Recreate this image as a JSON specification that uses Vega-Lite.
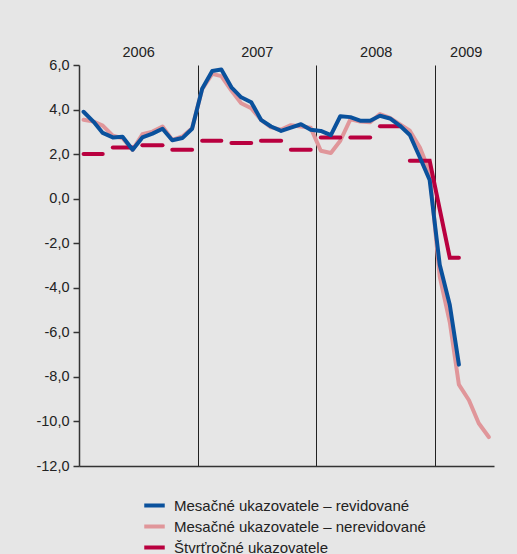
{
  "$schema": "https://vega.github.io/schema/vega-lite/v6.json",
  "width": 415,
  "height": 401,
  "autosize": {"type": "none"},
  "padding": {"left": 79, "top": 65, "right": 23, "bottom": 88},
  "background": "#e6e6e6",
  "config": {
    "view": {"stroke": null},
    "axis": {"labelFont": "Liberation Sans", "labelFontSize": 14.5, "labelColor": "#222", "title": null},
    "legend": {"labelFont": "Liberation Sans", "labelFontSize": 15, "labelColor": "#222", "labelLimit": 0, "symbolType": "stroke", "symbolStrokeWidth": 4, "symbolSize": 420, "labelOffset": 7, "rowPadding": 0, "padding": 0}
  },
  "datasets": {
    "nerev": [
      {"d": "2006-01-15", "v": 3.54}, {"d": "2006-02-15", "v": 3.46}, {"d": "2006-03-15", "v": 3.28}, {"d": "2006-04-15", "v": 2.83},
      {"d": "2006-05-15", "v": 2.71}, {"d": "2006-06-15", "v": 2.19}, {"d": "2006-07-15", "v": 2.89}, {"d": "2006-08-15", "v": 3.01},
      {"d": "2006-09-15", "v": 3.24}, {"d": "2006-10-15", "v": 2.64}, {"d": "2006-11-15", "v": 2.79}, {"d": "2006-12-15", "v": 3.16},
      {"d": "2007-01-15", "v": 4.92}, {"d": "2007-02-15", "v": 5.6}, {"d": "2007-03-15", "v": 5.5}, {"d": "2007-04-15", "v": 4.85},
      {"d": "2007-05-15", "v": 4.28}, {"d": "2007-06-15", "v": 4.06}, {"d": "2007-07-15", "v": 3.54}, {"d": "2007-08-15", "v": 3.2},
      {"d": "2007-09-15", "v": 3.1}, {"d": "2007-10-15", "v": 3.3}, {"d": "2007-11-15", "v": 3.24}, {"d": "2007-12-15", "v": 3.18},
      {"d": "2008-01-15", "v": 2.15}, {"d": "2008-02-15", "v": 2.05}, {"d": "2008-03-15", "v": 2.6}, {"d": "2008-04-15", "v": 3.56},
      {"d": "2008-05-15", "v": 3.46}, {"d": "2008-06-15", "v": 3.43}, {"d": "2008-07-15", "v": 3.8}, {"d": "2008-08-15", "v": 3.63},
      {"d": "2008-09-15", "v": 3.33}, {"d": "2008-10-15", "v": 3.05}, {"d": "2008-11-15", "v": 2.3}, {"d": "2008-12-15", "v": 1.2},
      {"d": "2009-01-15", "v": -3.5}, {"d": "2009-02-15", "v": -5.55}, {"d": "2009-03-15", "v": -8.35}, {"d": "2009-04-15", "v": -9.05},
      {"d": "2009-05-15", "v": -10.08}, {"d": "2009-06-15", "v": -10.7}
    ],
    "rev": [
      {"d": "2006-01-15", "v": 3.9}, {"d": "2006-02-15", "v": 3.45}, {"d": "2006-03-15", "v": 2.95}, {"d": "2006-04-15", "v": 2.75},
      {"d": "2006-05-15", "v": 2.78}, {"d": "2006-06-15", "v": 2.2}, {"d": "2006-07-15", "v": 2.75}, {"d": "2006-08-15", "v": 2.92},
      {"d": "2006-09-15", "v": 3.14}, {"d": "2006-10-15", "v": 2.62}, {"d": "2006-11-15", "v": 2.72}, {"d": "2006-12-15", "v": 3.14},
      {"d": "2007-01-15", "v": 4.93}, {"d": "2007-02-15", "v": 5.73}, {"d": "2007-03-15", "v": 5.8}, {"d": "2007-04-15", "v": 5.0},
      {"d": "2007-05-15", "v": 4.55}, {"d": "2007-06-15", "v": 4.33}, {"d": "2007-07-15", "v": 3.54}, {"d": "2007-08-15", "v": 3.24},
      {"d": "2007-09-15", "v": 3.04}, {"d": "2007-10-15", "v": 3.19}, {"d": "2007-11-15", "v": 3.34}, {"d": "2007-12-15", "v": 3.09},
      {"d": "2008-01-15", "v": 3.04}, {"d": "2008-02-15", "v": 2.85}, {"d": "2008-03-15", "v": 3.7}, {"d": "2008-04-15", "v": 3.66},
      {"d": "2008-05-15", "v": 3.5}, {"d": "2008-06-15", "v": 3.5}, {"d": "2008-07-15", "v": 3.72}, {"d": "2008-08-15", "v": 3.6},
      {"d": "2008-09-15", "v": 3.27}, {"d": "2008-10-15", "v": 2.86}, {"d": "2008-11-15", "v": 1.85}, {"d": "2008-12-15", "v": 0.84},
      {"d": "2009-01-15", "v": -2.97}, {"d": "2009-02-15", "v": -4.77}, {"d": "2009-03-15", "v": -7.45}
    ],
    "stv": [
      {"q": "2006Q1", "d": "2006-01-15", "v": 2.0}, {"q": "2006Q1", "d": "2006-02-15", "v": 2.0}, {"q": "2006Q1", "d": "2006-03-15", "v": 2.0},
      {"q": "2006Q2", "d": "2006-04-15", "v": 2.3}, {"q": "2006Q2", "d": "2006-05-15", "v": 2.3}, {"q": "2006Q2", "d": "2006-06-15", "v": 2.3},
      {"q": "2006Q3", "d": "2006-07-15", "v": 2.4}, {"q": "2006Q3", "d": "2006-08-15", "v": 2.4}, {"q": "2006Q3", "d": "2006-09-15", "v": 2.4},
      {"q": "2006Q4", "d": "2006-10-15", "v": 2.2}, {"q": "2006Q4", "d": "2006-11-15", "v": 2.2}, {"q": "2006Q4", "d": "2006-12-15", "v": 2.2},
      {"q": "2007Q1", "d": "2007-01-15", "v": 2.6}, {"q": "2007Q1", "d": "2007-02-15", "v": 2.6}, {"q": "2007Q1", "d": "2007-03-15", "v": 2.6},
      {"q": "2007Q2", "d": "2007-04-15", "v": 2.5}, {"q": "2007Q2", "d": "2007-05-15", "v": 2.5}, {"q": "2007Q2", "d": "2007-06-15", "v": 2.5},
      {"q": "2007Q3", "d": "2007-07-15", "v": 2.6}, {"q": "2007Q3", "d": "2007-08-15", "v": 2.6}, {"q": "2007Q3", "d": "2007-09-15", "v": 2.6},
      {"q": "2007Q4", "d": "2007-10-15", "v": 2.2}, {"q": "2007Q4", "d": "2007-11-15", "v": 2.2}, {"q": "2007Q4", "d": "2007-12-15", "v": 2.2},
      {"q": "2008Q1", "d": "2008-01-15", "v": 2.75}, {"q": "2008Q1", "d": "2008-02-15", "v": 2.75}, {"q": "2008Q1", "d": "2008-03-15", "v": 2.75},
      {"q": "2008Q2", "d": "2008-04-15", "v": 2.75}, {"q": "2008Q2", "d": "2008-05-15", "v": 2.75}, {"q": "2008Q2", "d": "2008-06-15", "v": 2.75},
      {"q": "2008Q3", "d": "2008-07-15", "v": 3.25}, {"q": "2008Q3", "d": "2008-08-15", "v": 3.25}, {"q": "2008Q3", "d": "2008-09-15", "v": 3.25},
      {"q": "2008Q4", "d": "2008-10-15", "v": 1.7}, {"q": "2008Q4", "d": "2008-11-15", "v": 1.7}, {"q": "2008Q4", "d": "2008-12-15", "v": 1.7},
      {"q": "2008Q4", "d": "2009-02-15", "v": -2.65}, {"q": "2008Q4", "d": "2009-03-15", "v": -2.65}
    ]
  },
  "resolve": {"axis": {"x": "independent"}},
  "layer": [
    {
      "data": {"name": "nerev"},
      "mark": {"type": "line", "strokeWidth": 4, "strokeCap": "round", "strokeJoin": "round"},
      "encoding": {
        "x": {
          "field": "d", "type": "temporal",
          "scale": {"type": "utc", "domain": [{"year": 2006, "month": 1, "date": 1, "utc": true}, {"year": 2009, "month": 7, "date": 1, "utc": true}]},
          "axis": {
            "orient": "bottom", "labels": false, "ticks": false, "domain": true, "domainColor": "#333", "domainWidth": 1.5,
            "grid": true, "gridColor": "#222", "gridWidth": 1, "gridOpacity": 1,
            "values": [{"year": 2007, "month": 1, "date": 1, "utc": true}, {"year": 2008, "month": 1, "date": 1, "utc": true}, {"year": 2009, "month": 1, "date": 1, "utc": true}]
          }
        },
        "y": {
          "field": "v", "type": "quantitative",
          "scale": {"domain": [-12, 6], "nice": false, "zero": false},
          "axis": {
            "values": [-12, -10, -8, -6, -4, -2, 0, 2, 4, 6],
            "labelExpr": "replace(replace(format(datum.value, '.1f'), '.', ','), '\u2212', '-')",
            "grid": false, "domain": true, "domainColor": "#333", "domainWidth": 1.5,
            "ticks": true, "tickSize": 6, "tickColor": "#333", "tickWidth": 1.5, "labelPadding": 4
          }
        },
        "color": {
          "datum": "Mesačné ukazovatele – nerevidované",
          "scale": {
            "domain": ["Mesačné ukazovatele – revidované", "Mesačné ukazovatele – nerevidované", "Štvrťročné ukazovatele"],
            "range": ["#0a519c", "#e0969a", "#b9003f"]
          },
          "legend": {"orient": "none", "legendX": 63, "legendY": 428, "title": null}
        }
      }
    },
    {
      "data": {"name": "stv"},
      "mark": {"type": "line", "strokeWidth": 4, "strokeCap": "round", "strokeJoin": "miter"},
      "encoding": {
        "x": {
          "field": "d", "type": "temporal",
          "axis": {
            "orient": "top", "labels": true, "ticks": false, "domain": false, "grid": false, "labelPadding": 6,
            "labelFontSize": 14.5,
            "values": [{"year": 2006, "month": 7, "date": 2, "utc": true}, {"year": 2007, "month": 7, "date": 2, "utc": true}, {"year": 2008, "month": 7, "date": 2, "utc": true}, {"year": 2009, "month": 4, "date": 5, "utc": true}],
            "labelExpr": "utcFormat(datum.value, '%Y')"
          }
        },
        "y": {"field": "v", "type": "quantitative"},
        "detail": {"field": "q"},
        "color": {"datum": "Štvrťročné ukazovatele"}
      }
    },
    {
      "data": {"name": "rev"},
      "mark": {"type": "line", "strokeWidth": 4, "strokeCap": "round", "strokeJoin": "round"},
      "encoding": {
        "x": {"field": "d", "type": "temporal", "axis": null},
        "y": {"field": "v", "type": "quantitative"},
        "color": {"datum": "Mesačné ukazovatele – revidované"}
      }
    }
  ]
}
